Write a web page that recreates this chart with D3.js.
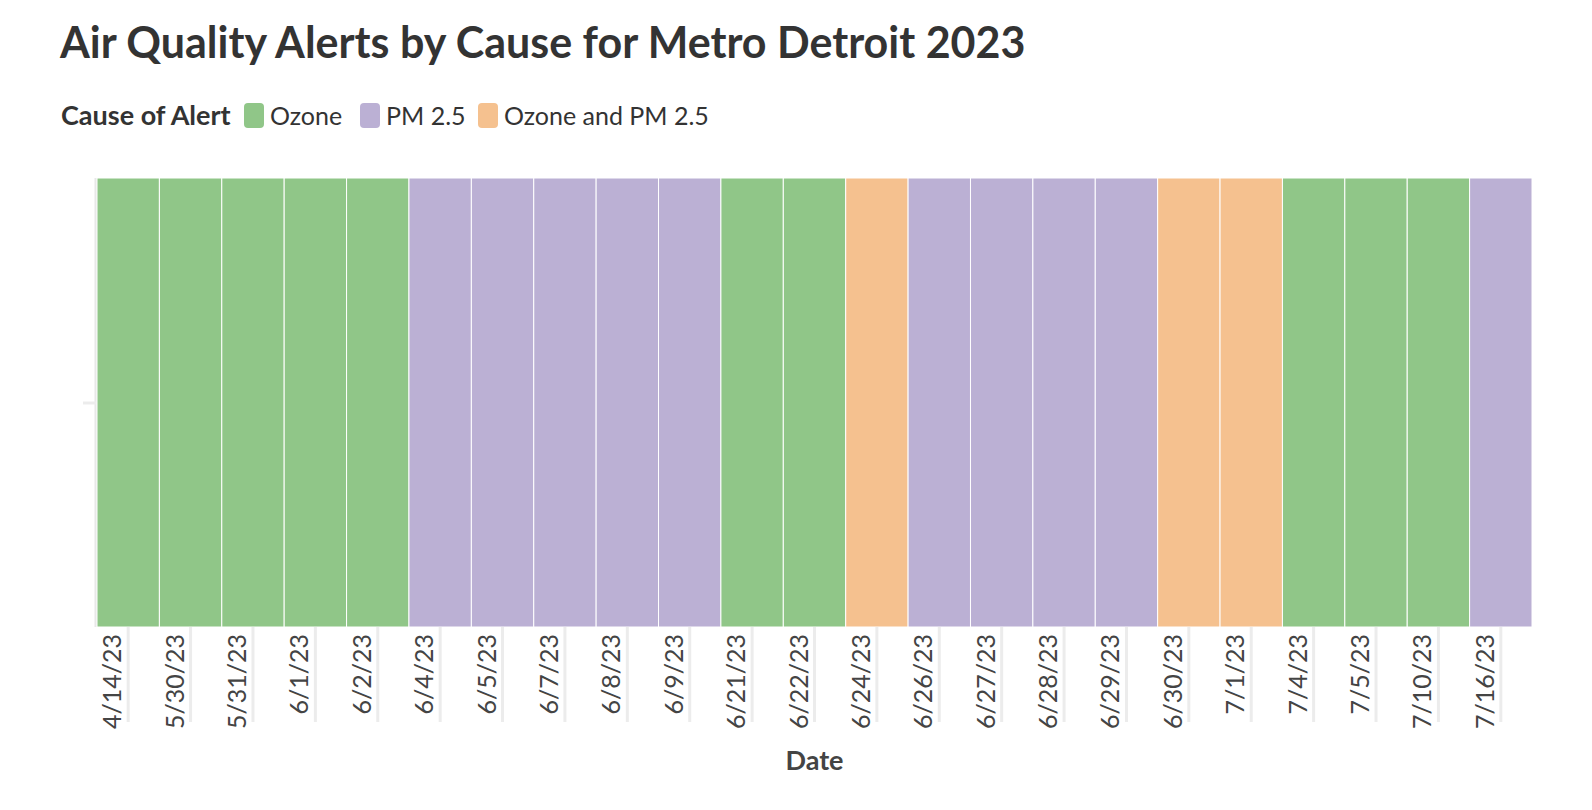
<!DOCTYPE html>
<html>
<head>
<meta charset="utf-8">
<script src="https://cdn.jsdelivr.net/npm/d3@7"></script>
<style>
  body { margin: 0; background: #fff; font-family: 'Source Sans Pro', Lato, sans-serif; }
</style>
</head>
<body>
<svg id="chart"></svg>
<script>
const dates = ['4/14/23', '5/30/23', '5/31/23', '6/1/23', '6/2/23', '6/4/23', '6/5/23', '6/7/23',
  '6/8/23', '6/9/23', '6/21/23', '6/22/23', '6/24/23', '6/26/23', '6/27/23', '6/28/23',
  '6/29/23', '6/30/23', '7/1/23', '7/4/23', '7/5/23', '7/10/23', '7/16/23']
const causes = ['Ozone', 'Ozone', 'Ozone', 'Ozone', 'Ozone', 'PM 2.5', 'PM 2.5', 'PM 2.5',
  'PM 2.5', 'PM 2.5', 'Ozone', 'Ozone', 'Ozone and PM 2.5', 'PM 2.5', 'PM 2.5', 'PM 2.5',
  'PM 2.5', 'Ozone and PM 2.5', 'Ozone and PM 2.5', 'Ozone', 'Ozone', 'Ozone', 'PM 2.5']
const alertCount = dates.map(() => 1)
const causeNames = ['Ozone', 'PM 2.5', 'Ozone and PM 2.5']
const causeColors = ['#90c688', '#bbb0d4', '#f5c18f']

const width = 1592
const height = 810
const margin = { top: 178, right: 60, bottom: 183, left: 97 }

const data = dates.map((d, i) => ({ date: d, cause: causes[i], value: alertCount[i] }))

const svg = d3.select('#chart')
  .attr('width', width)
  .attr('height', height)

const x = d3.scaleBand()
  .domain(dates)
  .range([margin.left, width - margin.right])
  .padding(0)

const y = d3.scaleLinear()
  .domain([0, 1])
  .range([height - margin.bottom, margin.top])

const color = d3.scaleOrdinal()
  .domain(causeNames)
  .range(causeColors)

// title + legend
svg.append('text')
  .attr('x', 60)
  .attr('y', 58)
  .attr('font-size', 43)
  .attr('font-weight', 700)
  .attr('fill', '#333')
  .text('Air Quality Alerts by Cause for Metro Detroit 2023')

const legend = svg.append('g').attr('transform', 'translate(61,125)')
legend.append('text')
  .attr('font-size', 27)
  .attr('font-weight', 700)
  .attr('fill', '#333')
  .text('Cause of Alert')

const legendX = [183, 299, 417]
const item = legend.selectAll('.item')
  .data(causeNames)
  .enter().append('g')
  .attr('transform', (d, i) => `translate(${legendX[i]},0)`)

item.append('rect')
  .attr('y', -22)
  .attr('width', 20)
  .attr('height', 25)
  .attr('rx', 4)
  .attr('fill', (d) => color(d))

item.append('text')
  .attr('x', 26)
  .attr('font-size', 25)
  .attr('fill', '#333')
  .text((d) => d)

// y axis: light line, one unlabeled tick
const yAxis = svg.append('g')
  .attr('transform', `translate(${margin.left - 1},0)`)
  .call(d3.axisLeft(y).tickValues([0.5]).tickFormat('').tickSize(13))
yAxis.select('.domain').attr('stroke', '#e8e8e8').attr('stroke-width', 3)
  .attr('d', `M0,${y(1)}V${y(0)}`)
yAxis.selectAll('.tick line').attr('stroke', '#ececec').attr('stroke-width', 3)

// bars
svg.append('g')
  .selectAll('rect')
  .data(data)
  .enter().append('rect')
  .attr('x', (d) => x(d.date))
  .attr('y', (d) => y(d.value))
  .attr('width', x.bandwidth())
  .attr('height', (d) => y(0) - y(d.value))
  .attr('fill', (d) => color(d.cause))
  .attr('stroke', '#fff')
  .attr('stroke-width', 1)

// x axis
const xAxis = svg.append('g')
  .attr('transform', `translate(0,${height - margin.bottom})`)
  .call(d3.axisBottom(x).tickSize(95).tickPadding(0))
xAxis.select('.domain').remove()
xAxis.selectAll('.tick line')
  .attr('stroke', '#ececec')
  .attr('stroke-width', 3)
xAxis.selectAll('.tick text')
  .attr('font-family', "'Source Sans Pro', Lato, sans-serif")
  .attr('font-size', 25)
  .attr('fill', '#444')
  .attr('text-anchor', 'end')
  .attr('transform', 'rotate(-90)')
  .attr('x', -7)
  .attr('y', -7)
  .attr('dy', 0)

svg.append('text')
  .attr('x', (margin.left + width - margin.right) / 2)
  .attr('y', 770)
  .attr('text-anchor', 'middle')
  .attr('font-size', 27)
  .attr('font-weight', 700)
  .attr('fill', '#444')
  .text('Date')
</script>
</body>
</html>
